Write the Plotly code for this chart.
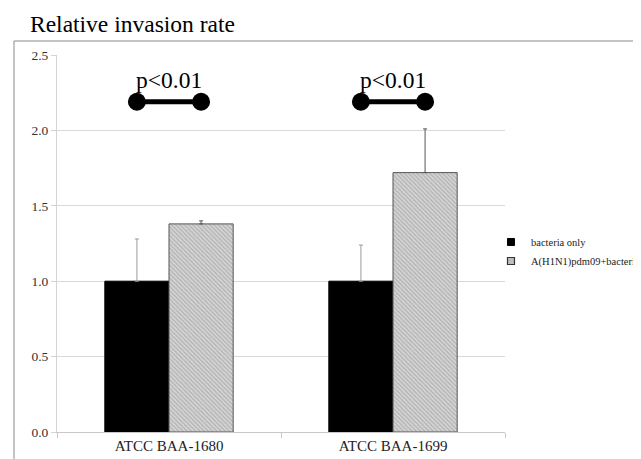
import plotly.graph_objects as go

# ---- data ----
categories = ["ATCC BAA-1680", "ATCC BAA-1699"]
series_names = ["bacteria only", "A(H1N1)pdm09+bacteria"]
bacteria_only = [1.00, 1.00]
bacteria_only_err = [0.28, 0.24]
h1n1_bacteria = [1.38, 1.72]
h1n1_bacteria_err = [0.02, 0.29]
sig_labels = ["p<0.01", "p<0.01"]
sig_level = 2.19
sig_text_level = 2.335
y_ticks = [0.0, 0.5, 1.0, 1.5, 2.0, 2.5]
title_text = "Relative invasion rate"

FONT = "Liberation Serif"
bargap = 0.427
xpos = list(range(len(categories)))
half = (1 - bargap) / 4  # offset of each bar centre from the category centre

fig = go.Figure()
fig.add_trace(go.Bar(
    x=xpos, y=bacteria_only, name=series_names[0], showlegend=False,
    marker=dict(color="#000000", line=dict(color="#000000", width=1)),
    error_y=dict(type="data", symmetric=False, array=bacteria_only_err,
                 arrayminus=[0] * len(xpos), color="#9a9a9a", thickness=1, width=2),
))
fig.add_trace(go.Bar(
    x=xpos, y=h1n1_bacteria, name=series_names[1], showlegend=False,
    marker=dict(color="#c4c4c4", line=dict(color="#555555", width=1),
                pattern=dict(shape="\\", size=3, solidity=0.45,
                             fgcolor="#8f8f8f", bgcolor="#d6d6d6")),
    error_y=dict(type="data", symmetric=False, array=h1n1_bacteria_err,
                 arrayminus=[0] * len(xpos), color="#555555", thickness=1, width=2),
))

# legend proxies
fig.add_trace(go.Scatter(x=[None], y=[None], mode="markers", name=series_names[0],
                         marker=dict(symbol="square", size=7, color="#000000",
                                     line=dict(color="#000000", width=1))))
fig.add_trace(go.Scatter(x=[None], y=[None], mode="markers", name=series_names[1],
                         marker=dict(symbol="square", size=7, color="#bdbdbd",
                                     line=dict(color="#333333", width=1.2))))

# significance dumbbells
for i, lab in enumerate(sig_labels):
    fig.add_trace(go.Scatter(
        x=[xpos[i] - half, xpos[i] + half], y=[sig_level, sig_level],
        mode="lines+markers", showlegend=False, hoverinfo="skip",
        line=dict(color="#000000", width=5),
        marker=dict(size=18, color="#000000"),
    ))
    fig.add_annotation(x=xpos[i], y=sig_text_level, text=lab, showarrow=False,
                       xanchor="center", yanchor="middle",
                       font=dict(family=FONT, size=23.5, color="#000000"))

fig.add_annotation(xref="paper", yref="paper", x=-0.0647, y=1.082, text=title_text,
                   showarrow=False, xanchor="left", yanchor="middle",
                   font=dict(family=FONT, size=23.5, color="#000000"))

# outer chart frame (left and top edges visible)
fx = (14 - 57) / 448
fy = (432 - 41) / 377
fig.add_shape(type="line", xref="paper", yref="paper", x0=fx, x1=fx, y0=-0.2, y1=fy,
              line=dict(color="#8a8a8a", width=1))
fig.add_shape(type="line", xref="paper", yref="paper", x0=fx, x1=1.5, y0=fy, y1=fy,
              line=dict(color="#8a8a8a", width=1))

fig.update_layout(
    width=641, height=459,
    margin=dict(l=49, r=144, t=47, b=35, autoexpand=False),
    paper_bgcolor="white", plot_bgcolor="white",
    barmode="group", bargap=bargap, bargroupgap=0,
    font=dict(family=FONT, color="#222222"),
    legend=dict(xref="container", yref="container", x=0.7535, xanchor="left",
                y=0.4695, yanchor="middle",
                font=dict(family=FONT, size=10.5, color="#222222"),
                bgcolor="rgba(0,0,0,0)", borderwidth=0, tracegroupgap=0),
    xaxis=dict(range=[-0.5, len(categories) - 0.5], tickmode="array",
               tickvals=xpos, ticktext=categories, ticks="",
               showgrid=False, zeroline=False, showline=True,
               linecolor="#c8c8c8", linewidth=1,
               tickfont=dict(family=FONT, size=15, color="#222222"),
               minor=dict(tickmode="array", tickvals=[-0.5, 0.5, 1.5],
                          ticks="outside", ticklen=5, tickcolor="#c8c8c8", showgrid=False)),
    yaxis=dict(range=[0, 2.5], tickmode="array", tickvals=y_ticks,
               tickformat=".1f", ticks="outside", ticklen=5, tickcolor="#d4d4d4",
               showgrid=True, gridcolor="#d9d9d9", gridwidth=1,
               zeroline=False, showline=True, linecolor="#d4d4d4", linewidth=1,
               tickfont=dict(family=FONT, size=13.5, color="#333333")),
)

fig.write_html("out.html")
